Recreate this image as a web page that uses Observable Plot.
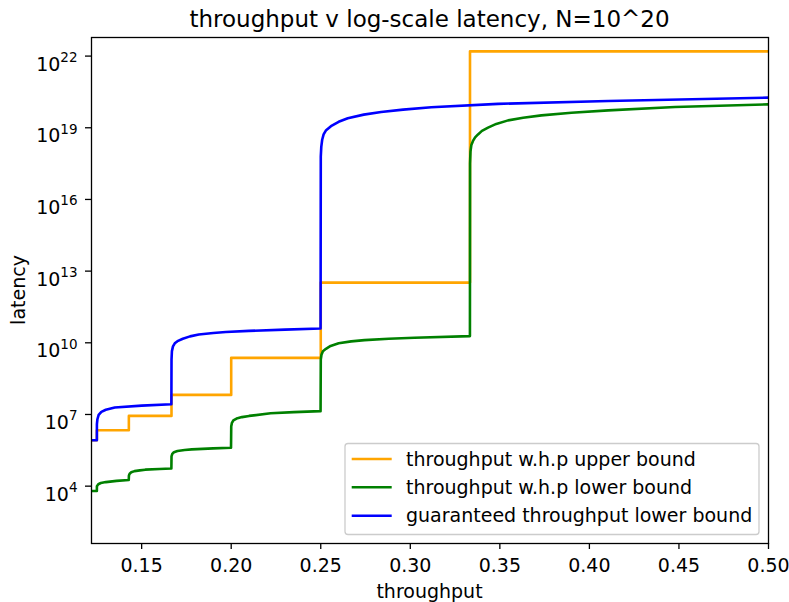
<!DOCTYPE html>
<html><head><meta charset="utf-8">
<script src="https://cdn.jsdelivr.net/npm/d3@7"></script>
<script src="https://cdn.jsdelivr.net/npm/@observablehq/plot@0.6"></script>
<style>
body{margin:0;background:#fff;}
#wrap{position:relative;width:789px;height:602px;}
</style>
</head><body><div id="wrap"></div>
<script>
const titleText = "throughput v log-scale latency, N=10^20";
const xLabel = "throughput";
const yLabel = "latency";
const xTicks = [0.15, 0.20, 0.25, 0.30, 0.35, 0.40, 0.45, 0.50];
const yTicks = [1e4, 1e7, 1e10, 1e13, 1e16, 1e19, 1e22];
const seriesNames = ["throughput w.h.p upper bound", "throughput w.h.p lower bound", "guaranteed throughput lower bound"];
const seriesColors = ["orange", "green", "blue"];

// throughput w.h.p upper bound (step)
const upperX = [0.1220, 0.1250, 0.142857, 0.166667, 0.2000, 0.2500, 0.333333, 0.5000];
const upperY = [8.32e5, 2.19e6, 8.71e6, 6.61e7, 2.34e9, 3.31e12, 1.58e22, 1.58e22];

// throughput w.h.p lower bound
const lowerX = [0.1220, 0.1250, 0.12502, 0.1258, 0.1272, 0.1300, 0.1360, 0.1428,
  0.14290, 0.1433, 0.1442, 0.1460, 0.1490, 0.1520, 0.1600, 0.1666,
  0.16668, 0.1671, 0.1680, 0.1700, 0.1740, 0.1780, 0.1900, 0.1999,
  0.20002, 0.2004, 0.2012, 0.2030, 0.2060, 0.2100, 0.2220, 0.2350, 0.2499,
  0.25002, 0.2504, 0.2512, 0.2529, 0.2555, 0.2600, 0.2670, 0.2744, 0.2880, 0.3023, 0.3333,
  0.33336, 0.3336, 0.3341, 0.3350, 0.3362, 0.3378, 0.3400, 0.3434, 0.3480, 0.3546, 0.3630, 0.3732, 0.3900, 0.4105, 0.4478, 0.5000];
const lowerY = [6.31e3, 6.31e3, 1.00e4, 1.20e4, 1.35e4, 1.48e4, 1.66e4, 1.82e4,
  2.82e4, 3.31e4, 3.80e4, 4.27e4, 4.57e4, 4.90e4, 5.25e4, 5.50e4,
  1.78e5, 2.24e5, 2.63e5, 2.95e5, 3.24e5, 3.47e5, 3.80e5, 4.07e5,
  3.16e6, 4.47e6, 5.62e6, 6.76e6, 7.76e6, 8.71e6, 1.12e7, 1.26e7, 1.38e7,
  2.00e9, 3.16e9, 4.47e9, 5.62e9, 7.41e9, 9.55e9, 1.15e10, 1.29e10, 1.48e10, 1.62e10, 1.91e10,
  3.16e17, 1.00e18, 1.91e18, 2.82e18, 3.98e18, 5.25e18, 7.41e18, 1.02e19, 1.45e19, 2.04e19, 2.63e19, 3.31e19, 4.27e19, 5.37e19, 7.41e19, 9.55e19];

// guaranteed throughput lower bound
const guarX = [0.1220, 0.1250, 0.12502, 0.1253, 0.1260, 0.1275, 0.1300, 0.1350, 0.1500, 0.1666,
  0.16668, 0.1669, 0.1675, 0.1685, 0.1700, 0.1730, 0.1770, 0.1819, 0.1900, 0.1970, 0.2099, 0.2300, 0.2499,
  0.25002, 0.2503, 0.2508, 0.2516, 0.2530, 0.2557, 0.2600, 0.2651, 0.2740, 0.2837, 0.2960, 0.3117, 0.3490, 0.4105, 0.5000];
const guarY = [8.32e5, 8.32e5, 3.98e6, 6.31e6, 9.55e6, 1.29e7, 1.58e7, 1.95e7, 2.34e7, 2.69e7,
  2.00e9, 4.47e9, 7.08e9, 9.55e9, 1.17e10, 1.48e10, 1.86e10, 2.24e10, 2.57e10, 2.82e10, 3.16e10, 3.55e10, 3.98e10,
  6.31e17, 1.58e18, 3.16e18, 5.25e18, 7.94e18, 1.17e19, 1.78e19, 2.51e19, 3.55e19, 4.57e19, 5.75e19, 7.24e19, 1.00e20, 1.32e20, 1.82e20];

const rows = (xs, ys) => xs.map((x, i) => ({x, y: ys[i]}));

const FS = 19;
const lw = 2.6;
const plot = Plot.plot({
  width: 789, height: 602,
  marginLeft: 91, marginRight: 21, marginTop: 37, marginBottom: 59,
  style: {fontFamily: "'DejaVu Sans', sans-serif", fontSize: FS + "px", color: "black", background: "white", overflow: "visible"},
  x: {domain: [0.1220, 0.5], label: null},
  y: {type: "log", domain: [39.8, 6.0e22], label: null},
  marks: [
    Plot.line(rows(upperX, upperY), {x: "x", y: "y", stroke: seriesColors[0], strokeWidth: lw, curve: "step-after", clip: true}),
    Plot.line(rows(lowerX, lowerY), {x: "x", y: "y", stroke: seriesColors[1], strokeWidth: lw, clip: true}),
    Plot.line(rows(guarX, guarY), {x: "x", y: "y", stroke: seriesColors[2], strokeWidth: lw, clip: true}),
    Plot.axisX({ticks: xTicks, tickSize: 6, tickPadding: 9, tickFormat: d3.format(".2f"), strokeWidth: 1.3, fontSize: FS, label: null}),
    Plot.axisY({ticks: yTicks, tickSize: 6, tickPadding: 8, tickFormat: d => d.toExponential(), strokeWidth: 1.3, fontSize: FS, label: null}),
    Plot.frame({stroke: "black", strokeWidth: 1.3})
  ]
});
document.getElementById("wrap").appendChild(plot);

const svg = d3.select(plot);
svg.selectAll('g[aria-label="x-axis tick label"] text').attr("font-size", FS + "px");
svg.selectAll('g[aria-label="y-axis tick label"] text').each(function() {
  const t = d3.select(this);
  const s = t.text();
  const e = +s.split("e")[1];
  t.text("10").attr("dy", "0.44em").attr("font-size", FS + "px");
  t.append("tspan").attr("font-size", "13.5px").attr("dy", "-8.5").text(e);
});

svg.append("text").attr("x", 429.5).attr("y", 27).attr("text-anchor", "middle")
  .attr("font-size", "23px").attr("fill", "black").text(titleText);
svg.append("text").attr("x", 429.5).attr("y", 598).attr("text-anchor", "middle")
  .attr("font-size", FS + "px").attr("fill", "black").text(xLabel);
svg.append("text").attr("transform", "translate(25,290) rotate(-90)").attr("text-anchor", "middle")
  .attr("font-size", FS + "px").attr("fill", "black").text(yLabel);

const lg = svg.append("g");
lg.append("rect").attr("x", 345).attr("y", 443.5).attr("width", 414).attr("height", 91)
  .attr("rx", 3).attr("fill", "white").attr("fill-opacity", 0.8).attr("stroke", "#cccccc").attr("stroke-width", 1.3);
const rowY = [459, 487.3, 515.7];
seriesNames.forEach((n, i) => {
  lg.append("line").attr("x1", 351.7).attr("x2", 391.7).attr("y1", rowY[i]).attr("y2", rowY[i])
    .attr("stroke", seriesColors[i]).attr("stroke-width", lw);
  lg.append("text").attr("x", 406).attr("y", rowY[i]).attr("dy", "0.35em").attr("text-anchor", "start")
    .attr("font-size", FS + "px").attr("fill", "black").text(n);
});
</script>
</body></html>
